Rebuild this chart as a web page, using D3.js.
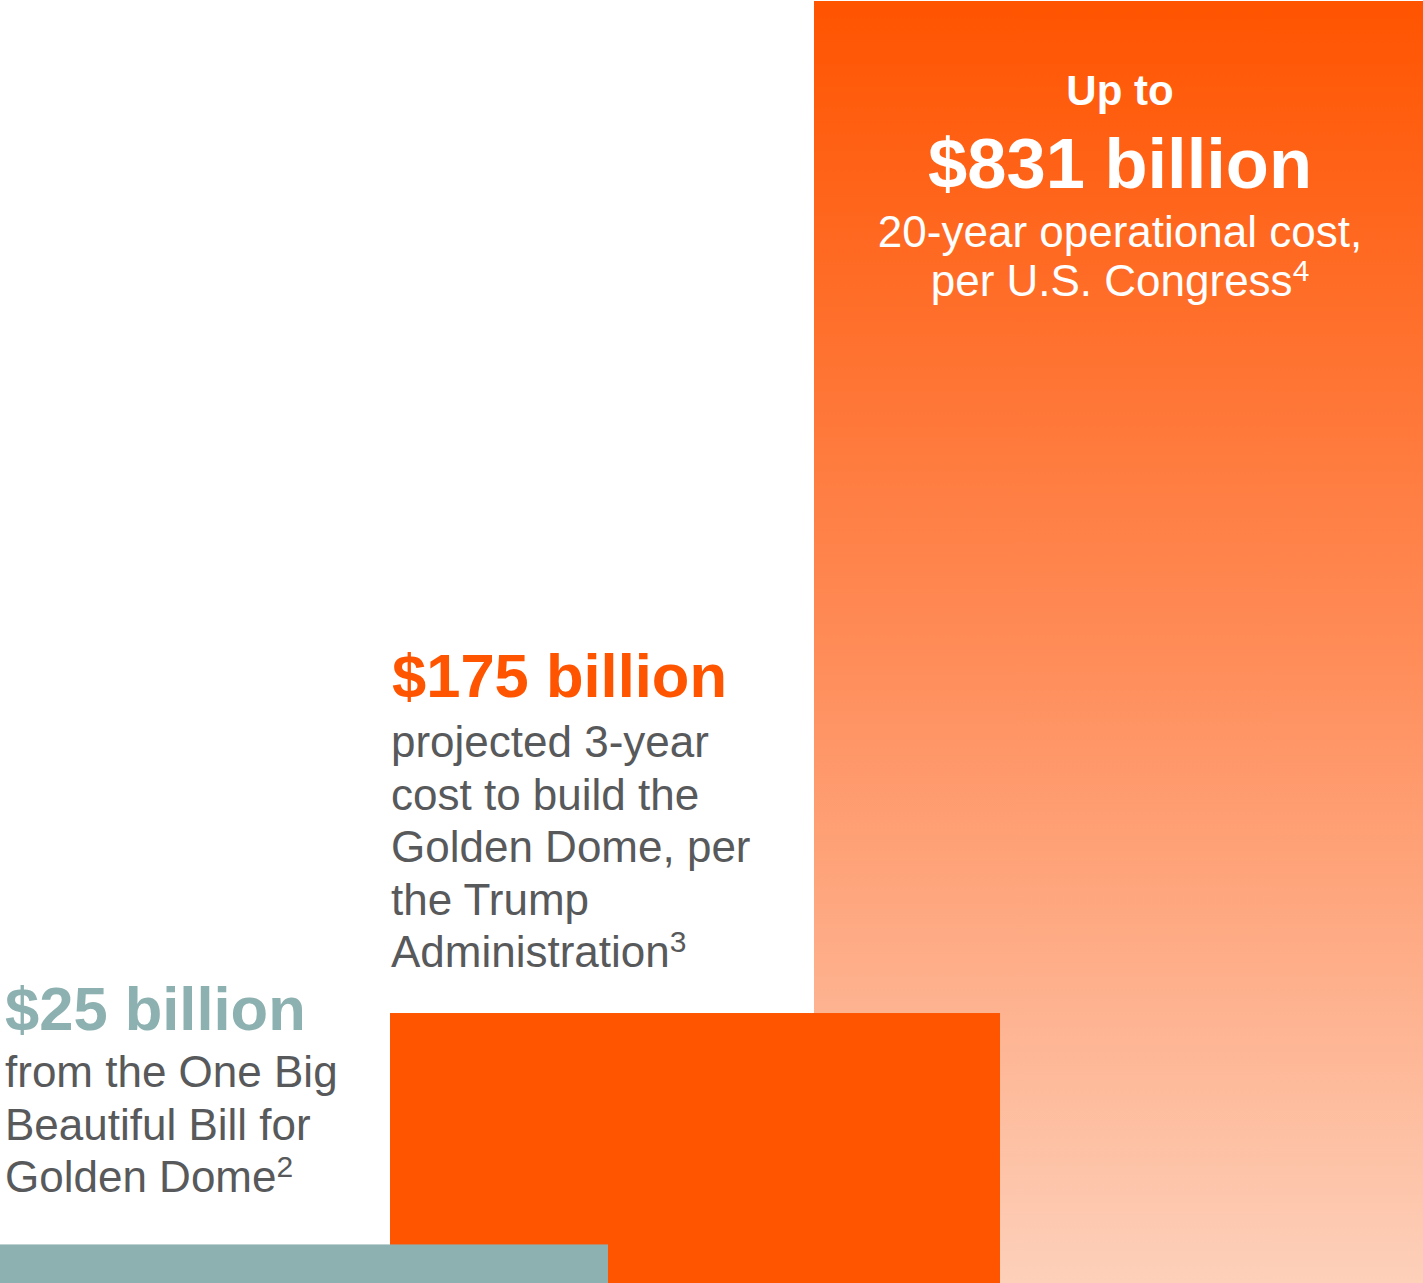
<!DOCTYPE html>
<meta charset="utf-8">
<style>
body { margin: 0; background: #fff; }
svg { display: block; font-family: "Liberation Sans", Arial, sans-serif; }
.head { font-weight: bold; }
.body { fill: #58595b; font-size: 44px; }
</style>
<svg width="1423" height="1283"></svg>
<script src="https://d3js.org/d3.v7.min.js"></script>
<script>

// DATA
var keys = ["obbb", "build", "operate"];
var values = [25, 175, 831];
var headlines = ["$25 billion", "$175 billion", "$831 billion"];
var kickers = [null, null, "Up to"];
var bodyLines = [
  [["from the One Big"], ["Beautiful Bill for"], ["Golden Dome", "2"]],
  [["projected 3-year"], ["cost to build the"], ["Golden Dome, per"], ["the Trump"], ["Administration", "3"]],
  [["20-year operational cost,"], ["per U.S. Congress", "4"]]
];

var teal = "#8db0b0", orange = "#ff5500";

var svg = d3.select("svg"),
    width = +svg.attr("width"),
    height = +svg.attr("height"),
    barW = 610;

// each block's left edge (they overlap, so not an even band)
var x = d3.scaleOrdinal()
    .domain(keys)
    .range([-2, 390, 814]);

var h = d3.scaleLinear()
    .domain([0, 831])
    .range([0, height - 1]);

var defs = svg.append("defs");
var grad = defs.append("linearGradient")
    .attr("id", "fade")
    .attr("x1", 0).attr("y1", 0)
    .attr("x2", 0).attr("y2", 1);
grad.append("stop").attr("offset", "0%").attr("stop-color", "#ff5400");
grad.append("stop").attr("offset", "50%").attr("stop-color", "#ff8b57");
grad.append("stop").attr("offset", "100%").attr("stop-color", "#fdd0ba");

var fills = [teal, orange, "url(#fade)"];

var data = keys.map(function(k, i) {
  return {key: k, value: values[i], fill: fills[i]};
});

// draw the tall one first, the small teal block last (it sits on top)
svg.append("g").selectAll("rect")
  .data(data.slice().reverse())
  .join("rect")
    .attr("x", function(d) { return x(d.key); })
    .attr("y", function(d) { return height - h(d.value); })
    .attr("width", function(d) { return d.key == "operate" ? width - x(d.key) : barW; })
    .attr("height", function(d) { return h(d.value); })
    .attr("fill", function(d) { return d.fill; });

// labels
function addLines(g, lines, x0, y0, step, anchor) {
  lines.forEach(function(l, i) {
    var t = g.append("text")
        .attr("class", "body")
        .attr("x", x0)
        .attr("y", y0 + i * step)
        .attr("text-anchor", anchor);
    t.append("tspan").text(l[0]);
    if (l[1]) {
      t.append("tspan")
        .attr("font-size", "30px")
        .attr("dy", -15)
        .text(l[1]);
    }
  });
}

// $25 billion
var g0 = svg.append("g");
g0.append("text")
    .attr("class", "head")
    .attr("x", 5)
    .attr("y", 1030)
    .attr("font-size", "61.5px")
    .attr("fill", teal)
    .text(headlines[0]);
addLines(g0, bodyLines[0], 5, 1087, 52.5, "start");

// $175 billion
var g1 = svg.append("g");
g1.append("text")
    .attr("class", "head")
    .attr("x", x("build") + 2)
    .attr("y", 697)
    .attr("font-size", "61.5px")
    .attr("fill", orange)
    .text(headlines[1]);
addLines(g1, bodyLines[1], x("build") + 1, 757, 52.5, "start");

// $831 billion
var cx = x("operate") + barW / 2 + 1;
var g2 = svg.append("g");
g2.append("text")
    .attr("class", "head")
    .attr("x", cx)
    .attr("y", 105)
    .attr("font-size", "42px")
    .attr("fill", "#fff")
    .attr("text-anchor", "middle")
    .text(kickers[2]);
g2.append("text")
    .attr("class", "head")
    .attr("x", cx)
    .attr("y", 188)
    .attr("font-size", "70.5px")
    .attr("fill", "#fff")
    .attr("text-anchor", "middle")
    .text(headlines[2]);
addLines(g2, bodyLines[2], cx, 247, 49, "middle");
g2.selectAll("text.body").style("fill", "#fff");

</script>
